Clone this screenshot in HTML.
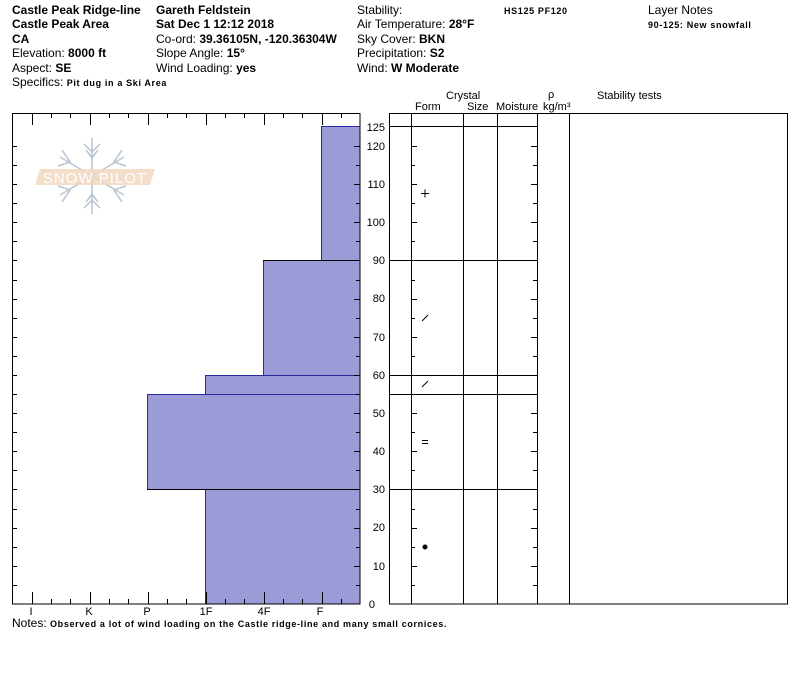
<!DOCTYPE html>
<html><head><meta charset="utf-8"><style>
body{margin:0;background:#fff;}
svg{display:block;font-family:"Liberation Sans",sans-serif;}
.s{font-weight:bold;font-size:9px;letter-spacing:0.65px;}
</style></head><body>
<svg width="800" height="676" viewBox="0 0 800 676" xmlns="http://www.w3.org/2000/svg">
<g font-size="12" fill="#000">
<text x="12" y="14" font-weight="bold">Castle Peak Ridge-line</text>
<text x="12" y="28" font-weight="bold">Castle Peak Area</text>
<text x="12" y="43" font-weight="bold">CA</text>
<text x="12" y="57">Elevation: <tspan font-weight="bold">8000 ft</tspan></text>
<text x="12" y="72">Aspect: <tspan font-weight="bold">SE</tspan></text>
<text x="12" y="86">Specifics: <tspan class="s">Pit dug in a Ski Area</tspan></text>
<text x="156" y="14" font-weight="bold">Gareth Feldstein</text>
<text x="156" y="28" font-weight="bold">Sat Dec 1 12:12 2018</text>
<text x="156" y="43">Co-ord: <tspan font-weight="bold">39.36105N, -120.36304W</tspan></text>
<text x="156" y="57">Slope Angle: <tspan font-weight="bold">15°</tspan></text>
<text x="156" y="72">Wind Loading: <tspan font-weight="bold">yes</tspan></text>
<text x="357" y="14">Stability:</text>
<text x="357" y="28">Air Temperature: <tspan font-weight="bold">28°F</tspan></text>
<text x="357" y="43">Sky Cover: <tspan font-weight="bold">BKN</tspan></text>
<text x="357" y="57">Precipitation: <tspan font-weight="bold">S2</tspan></text>
<text x="357" y="72">Wind:  <tspan font-weight="bold">W Moderate</tspan></text>
<text x="504" y="14" class="s">HS125  PF120</text>
<text x="648" y="14">Layer Notes</text>
<text x="648" y="28" class="s">90-125: New snowfall</text>
</g>
<!-- logo -->
<g stroke="#b8c4d0" stroke-width="1.5" fill="none">
<line x1="92" y1="138" x2="92" y2="214"/>
<line x1="60" y1="157" x2="124" y2="195"/>
<line x1="60" y1="195" x2="124" y2="157"/>
<polyline points="84,144 92,152 100,144"/><polyline points="84,208 92,200 100,208"/>
<polyline points="86,150 92,158 98,150"/><polyline points="86,202 92,194 98,202"/>
<polyline points="62,150 70,162 58,166"/><polyline points="122,150 114,162 126,166"/>
<polyline points="62,202 70,190 58,186"/><polyline points="122,202 114,190 126,186"/>
</g>
<polygon points="40,169 155,169 150,185 35,185" fill="#f0d8c0" opacity="0.85"/>
<text x="95" y="183" font-size="15" fill="#fff" text-anchor="middle" letter-spacing="1">SNOW PILOT</text>
<!-- bars -->
<g fill="#9b9bd8" stroke="#2a2aa0" stroke-width="1">
<rect x="205.5" y="489.5" width="154.5" height="114.5"/>
<rect x="147.5" y="394.5" width="212.5" height="95"/>
<rect x="205.5" y="375.5" width="154.5" height="19"/>
<rect x="263.5" y="260.5" width="96.5" height="115"/>
<rect x="321.5" y="126.5" width="38.5" height="134"/>
</g>
<line x1="147" y1="489.5" x2="360" y2="489.5" stroke="#000"/>
<line x1="263" y1="260.5" x2="360" y2="260.5" stroke="#000"/>
<rect x="12.5" y="113.5" width="347.5" height="490.5" stroke="#000" fill="none"/>
<g stroke="#000" stroke-width="1" fill="none">
<path d="M32.5 114v11M51.5 114v4M70.5 114v4M90.5 114v11M109.5 114v4M128.5 114v4M148.5 114v11M167.5 114v4M186.5 114v4M206.5 114v11M225.5 114v4M244.5 114v4M264.5 114v11M283.5 114v4M302.5 114v4M322.5 114v11M341.5 114v4"/>
<path d="M32.5 604v-12M51.5 604v-5M70.5 604v-5M90.5 604v-12M109.5 604v-5M128.5 604v-5M148.5 604v-12M167.5 604v-5M186.5 604v-5M206.5 604v-12M225.5 604v-5M244.5 604v-5M264.5 604v-12M283.5 604v-5M302.5 604v-5M322.5 604v-12M341.5 604v-5"/>
<path d="M13 585.5h4M13 566.5h4M13 547.5h4M13 528.5h4M13 509.5h4M13 489.5h4M13 470.5h4M13 451.5h4M13 432.5h4M13 413.5h4M13 394.5h4M13 375.5h4M13 356.5h4M13 337.5h4M13 318.5h4M13 299.5h4M13 280.5h4M13 260.5h4M13 241.5h4M13 222.5h4M13 203.5h4M13 184.5h4M13 165.5h4M13 146.5h4"/>
<path d="M360 585.5h-4M360 566.5h-6M360 547.5h-4M360 528.5h-6M360 509.5h-4M360 489.5h-6M360 470.5h-4M360 451.5h-6M360 432.5h-4M360 413.5h-6M360 394.5h-4M360 375.5h-6M360 356.5h-4M360 337.5h-6M360 318.5h-4M360 299.5h-6M360 280.5h-4M360 260.5h-6M360 241.5h-4M360 222.5h-6M360 203.5h-4M360 184.5h-6M360 165.5h-4M360 146.5h-6"/>
<path d="M411 585.5h4M411 566.5h6M411 547.5h4M411 528.5h6M411 509.5h4M411 489.5h6M411 470.5h4M411 451.5h6M411 432.5h4M411 413.5h6M411 394.5h4M411 375.5h6M411 356.5h4M411 337.5h6M411 318.5h4M411 299.5h6M411 280.5h4M411 260.5h6M411 241.5h4M411 222.5h6M411 203.5h4M411 184.5h6M411 165.5h4M411 146.5h6"/>
<path d="M537 585.5h-4M537 566.5h-6M537 547.5h-4M537 528.5h-6M537 509.5h-4M537 489.5h-6M537 470.5h-4M537 451.5h-6M537 432.5h-4M537 413.5h-6M537 394.5h-4M537 375.5h-6M537 356.5h-4M537 337.5h-6M537 318.5h-4M537 299.5h-6M537 280.5h-4M537 260.5h-6M537 241.5h-4M537 222.5h-6M537 203.5h-4M537 184.5h-6M537 165.5h-4M537 146.5h-6"/>
</g>
<g font-size="11" fill="#000" text-anchor="middle">
<text x="31" y="615">I</text><text x="89" y="615">K</text><text x="147" y="615">P</text>
<text x="206" y="615">1F</text><text x="264" y="615">4F</text><text x="320" y="615">F</text>
</g>
<text x="12" y="627" font-size="12">Notes: <tspan class="s" letter-spacing="0.75">Observed a lot of wind loading on the Castle ridge-line and many small cornices.</tspan></text>
<g font-size="11" fill="#000" text-anchor="end">
<text x="385" y="131">125</text><text x="385" y="150">120</text><text x="385" y="188">110</text>
<text x="385" y="226">100</text><text x="385" y="264">90</text><text x="385" y="302">80</text>
<text x="385" y="341">70</text><text x="385" y="379">60</text><text x="385" y="417">50</text>
<text x="385" y="455">40</text><text x="385" y="493">30</text><text x="385" y="531">20</text>
<text x="385" y="570">10</text><text x="375" y="608">0</text>
</g>
<g stroke="#000" stroke-width="1" fill="none">
<rect x="389.5" y="113.5" width="398" height="490.5"/>
<line x1="411.5" y1="113" x2="411.5" y2="604"/>
<line x1="463.5" y1="113" x2="463.5" y2="604"/>
<line x1="497.5" y1="113" x2="497.5" y2="604"/>
<line x1="537.5" y1="113" x2="537.5" y2="604"/>
<line x1="569.5" y1="113" x2="569.5" y2="604"/>
<line x1="389" y1="126.5" x2="537" y2="126.5"/>
<line x1="389" y1="260.5" x2="537" y2="260.5"/>
<line x1="389" y1="375.5" x2="537" y2="375.5"/>
<line x1="389" y1="394.5" x2="537" y2="394.5"/>
<line x1="389" y1="489.5" x2="537" y2="489.5"/>
</g>
<g font-size="11" fill="#000">
<text x="446" y="99">Crystal</text>
<text x="415" y="110">Form</text><text x="467" y="110">Size</text><text x="496" y="110">Moisture</text>
<text x="548" y="98">ρ</text><text x="543" y="110">kg/m³</text>
<text x="597" y="99">Stability tests</text>
</g>
<g stroke="#000" stroke-width="1" fill="none">
<line x1="421" y1="193.5" x2="429" y2="193.5"/><line x1="425" y1="189.5" x2="425" y2="197.5"/>
<line x1="422" y1="321" x2="428" y2="315"/>
<line x1="422" y1="387" x2="428" y2="381"/>
<line x1="422" y1="440.5" x2="428" y2="440.5"/><line x1="422" y1="443.5" x2="428" y2="443.5"/>
</g>
<circle cx="425" cy="547" r="2.5" fill="#000"/>
</svg>
</body></html>
